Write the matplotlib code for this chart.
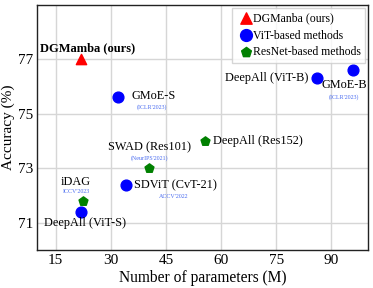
import matplotlib
matplotlib.use("Agg")
import matplotlib.pyplot as plt

plt.rcParams['font.family'] = ['Liberation Serif', 'DejaVu Serif']

# Data
ours_x = [22]
ours_y = [77.0]
vit_names = ["GMoE-S", "DeepAll (ViT-B)", "GMoE-B", "SDViT (CvT-21)", "DeepAll (ViT-S)"]
vit_x = [32, 86, 96, 34, 22]
vit_y = [75.6, 76.3, 76.6, 72.4, 71.4]
res_names = ["DeepAll (Res152)", "SWAD (Res101)", "iDAG"]
res_x = [55.5, 40.5, 22.5]
res_y = [74.0, 73.0, 71.8]
xticks = [15, 30, 45, 60, 75, 90]
yticks = [71, 73, 75, 77]

fig, ax = plt.subplots(figsize=(3.73, 2.88), dpi=100)
fig.subplots_adjust(left=0.1, right=0.987, top=0.983, bottom=0.132)

ax.scatter(ours_x, ours_y, marker='^', s=55, color='red', label='DGManba (ours)', zorder=3)
ax.scatter(vit_x, vit_y, marker='o', s=60, color='blue', label='ViT-based methods', zorder=3)
ax.scatter(res_x, res_y, marker='p', s=45, color='green', label='ResNet-based methods', zorder=3)

fs = 8.8
cite_c = '#4a6cf0'
cfs = 4.3
ax.text(23.7, 77.4, "DGMamba (ours)", fontsize=9, fontweight='bold', ha='center', va='center')
ax.text(35.5, 75.65, "GMoE-S", fontsize=fs, ha='left', va='center')
ax.text(41.2, 75.25, "(ICLR'2023)", fontsize=cfs, color=cite_c, ha='center', va='center')
ax.text(83.7, 76.3, "DeepAll (ViT-B)", fontsize=fs, ha='right', va='center')
ax.text(93.5, 76.05, "GMoE-B", fontsize=fs, ha='center', va='center')
ax.text(93.5, 75.6, "(ICLR'2023)", fontsize=cfs, color=cite_c, ha='center', va='center')
ax.text(57.8, 74.0, "DeepAll (Res152)", fontsize=fs, ha='left', va='center')
ax.text(40.6, 73.78, "SWAD (Res101)", fontsize=fs, ha='center', va='center')
ax.text(40.6, 73.37, "(NeurIPS'2021)", fontsize=cfs, color=cite_c, ha='center', va='center')
ax.text(36.3, 72.38, "SDViT (CvT-21)", fontsize=fs, ha='left', va='center')
ax.text(47.2, 71.98, "ACCV'2022", fontsize=cfs, color=cite_c, ha='center', va='center')
ax.text(20.5, 72.5, "iDAG", fontsize=fs, ha='center', va='center')
ax.text(20.5, 72.13, "ICCV'2023", fontsize=cfs, color=cite_c, ha='center', va='center')
ax.text(23.0, 71.0, "DeepAll (ViT-S)", fontsize=fs, ha='center', va='center')

ax.set_xlim(10, 100)
ax.set_ylim(70, 79)
ax.set_xticks(xticks)
ax.set_yticks(yticks)
ax.tick_params(labelsize=11, length=0, pad=3)
ax.grid(True, color='#d6d6d6', linewidth=1)
ax.set_axisbelow(True)
for sp in ax.spines.values():
    sp.set_color('#222222')
    sp.set_linewidth(1)
ax.set_xlabel("Number of parameters (M)", fontsize=11.2, labelpad=2)
ax.set_ylabel("Accuracy (%)", fontsize=11, labelpad=2)

leg = ax.legend(loc='upper right', fontsize=8.5, handletextpad=-0.2, borderpad=0.35,
                labelspacing=0.42, handlelength=1.6, frameon=True, fancybox=False,
                borderaxespad=0.3, markerscale=1.1)
leg.get_frame().set_edgecolor('#cccccc')

fig.savefig("out.png", dpi=100)
